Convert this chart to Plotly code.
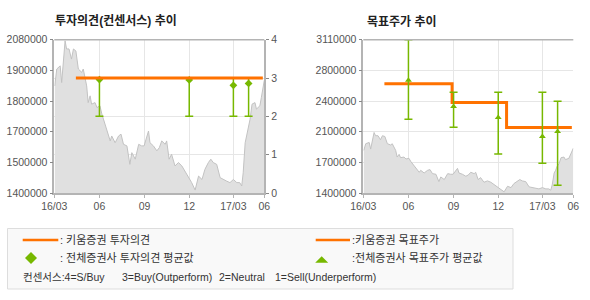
import numpy as np
import plotly.graph_objects as go

# ---------------- data ----------------
price_dates = [
    "2016-03-02", "2016-03-06", "2016-03-13", "2016-03-16", "2016-03-23", "2016-03-26", "2016-03-31",
    "2016-04-05", "2016-04-09", "2016-04-14", "2016-04-19", "2016-04-26", "2016-04-29", "2016-05-03",
    "2016-05-06", "2016-05-09", "2016-05-13", "2016-05-16", "2016-05-23", "2016-05-27", "2016-06-02",
    "2016-06-06", "2016-06-12", "2016-06-19", "2016-06-23", "2016-06-26", "2016-07-03", "2016-07-10",
    "2016-07-15", "2016-07-20", "2016-07-27", "2016-08-02", "2016-08-06", "2016-08-13", "2016-08-20",
    "2016-08-26", "2016-08-31", "2016-09-09", "2016-09-12", "2016-09-19", "2016-09-26", "2016-10-01",
    "2016-10-06", "2016-10-13", "2016-10-16", "2016-10-21", "2016-10-26", "2016-11-02", "2016-11-09",
    "2016-11-16", "2016-11-22", "2016-11-29", "2016-12-06", "2016-12-13", "2016-12-20", "2016-12-27",
    "2017-01-02", "2017-01-09", "2017-01-14", "2017-01-19", "2017-01-26", "2017-02-02", "2017-02-08",
    "2017-02-15", "2017-02-22", "2017-03-01", "2017-03-08", "2017-03-14", "2017-03-18", "2017-03-21",
    "2017-03-25", "2017-03-28", "2017-03-31", "2017-04-04", "2017-04-08", "2017-04-14", "2017-04-17",
    "2017-04-24", "2017-04-27", "2017-05-01", "2017-05-03",
]
price_values = [
    1875000, 1950000, 1964000, 1890000, 2075000, 2039000, 2039000,
    1994000, 2039000, 2030000, 1950000, 1935000, 1950000, 1905000,
    1875000, 1801000, 1831000, 1794000, 1801000, 1779000, 1787000,
    1750000, 1705000, 1661000, 1631000, 1653000, 1623000, 1653000,
    1661000, 1616000, 1609000, 1527000, 1579000, 1550000, 1616000,
    1609000, 1609000, 1675000, 1623000, 1609000, 1587000, 1601000,
    1631000, 1616000, 1631000, 1550000, 1572000, 1520000, 1535000,
    1520000, 1498000, 1468000, 1446000, 1413000, 1475000, 1460000,
    1505000, 1535000, 1550000, 1535000, 1527000, 1468000, 1460000,
    1453000, 1446000, 1460000, 1446000, 1446000, 1431000, 1490000,
    1623000, 1653000, 1698000, 1727000, 1794000, 1801000, 1772000,
    1787000, 1824000, 1883000, 1900000,
]

# Kiwoom investment opinion (left chart, right axis 0-4)
opinion_dates = ["2016-04-14", "2017-04-30"]
opinion_values = [3, 3]

# Consensus opinion (avg / high / low)
cons_op_dates = ["2016-06-01", "2016-12-01", "2017-03-01", "2017-04-01"]
cons_op_avg = [2.96, 2.95, 2.81, 2.86]
cons_op_high = [3, 3, 3, 3]
cons_op_low = [2, 2, 2, 2]

# Kiwoom target price (step)
target_dates = ["2016-04-13", "2016-08-29", "2016-12-18", "2017-04-30"]
target_values = [2620000, 2410000, 2130000, 2130000]

# Consensus target price (avg / high / low)
cons_tp_dates = ["2016-06-01", "2016-09-01", "2016-12-01", "2017-03-01", "2017-04-01"]
cons_tp_avg = [2659000, 2364000, 2241000, 2029000, 2085000]
cons_tp_high = [3110000, 2525000, 2525000, 2525000, 2423000]
cons_tp_low = [2224000, 2134000, 1836000, 1732000, 1486000]

x_range = ["2016-03-01", "2017-05-03"]
x_tickvals = ["2016-03-01", "2016-06-01", "2016-09-01", "2016-12-01", "2017-03-01", "2017-05-03"]
x_ticktext = ["16/03", "06", "09", "12", "17/03", "06"]

left_range = [1400000, 2080000]
left_ticktext = ["1400000", "1500000", "1700000", "1800000", "1900000", "2080000"]
right_range = [1400000, 3110000]
right_ticktext = ["1400000", "1700000", "2100000", "2400000", "2800000", "3110000"]
op_ticks = [0, 1, 2, 3, 4]

# ---------------- styling ----------------
W, H = 590, 300
ORANGE = "#ff7200"
GREEN = "#77b800"
GRID = "#e6e6e6"
AXIS = "#b4b4b4"
FILL = "#e0e0e0"
PLINE = "#c2c2c2"
TICKFONT = dict(family="Liberation Sans, Arial, sans-serif", size=10.5, color="#555555")
KFONT = "Liberation Sans, Noto Sans CJK KR, sans-serif"

def px(x):
    return x / W

def py(y):
    return 1 - y / H

ydom = [py(193), py(39.7)]
left_dom = [px(54.3), px(264.3)]
right_dom = [px(363.3), px(573.3)]

fig = go.Figure()

# ---- left chart ----
fig.add_trace(go.Scatter(x=price_dates, y=price_values, mode="lines", fill="tozeroy",
                         fillcolor=FILL, line=dict(color=PLINE, width=1),
                         xaxis="x", yaxis="y", hoverinfo="skip"))
fig.add_trace(go.Scatter(
    x=cons_op_dates, y=cons_op_avg, mode="markers", xaxis="x", yaxis="y2",
    marker=dict(symbol="diamond", size=6, color=GREEN),
    error_y=dict(type="data", symmetric=False,
                 array=[h - a for h, a in zip(cons_op_high, cons_op_avg)],
                 arrayminus=[a - l for a, l in zip(cons_op_avg, cons_op_low)],
                 color=GREEN, thickness=1.5, width=4)))
fig.add_trace(go.Scatter(x=opinion_dates, y=opinion_values, mode="lines", xaxis="x", yaxis="y2",
                         line=dict(color=ORANGE, width=3)))

# ---- right chart ----
fig.add_trace(go.Scatter(x=price_dates, y=price_values, mode="lines", fill="tozeroy",
                         fillcolor=FILL, line=dict(color=PLINE, width=1),
                         xaxis="x2", yaxis="y3", hoverinfo="skip"))
fig.add_trace(go.Scatter(x=target_dates, y=target_values, mode="lines", line_shape="hv",
                         xaxis="x2", yaxis="y3", line=dict(color=ORANGE, width=3)))
fig.add_trace(go.Scatter(
    x=cons_tp_dates, y=cons_tp_avg, mode="markers", xaxis="x2", yaxis="y3",
    marker=dict(symbol="triangle-up", size=6, color=GREEN),
    error_y=dict(type="data", symmetric=False,
                 array=[h - a for h, a in zip(cons_tp_high, cons_tp_avg)],
                 arrayminus=[a - l for a, l in zip(cons_tp_avg, cons_tp_low)],
                 color=GREEN, thickness=1.5, width=4)))

xcommon = dict(type="date", range=x_range, tickmode="array", tickvals=x_tickvals, ticktext=x_ticktext,
               showgrid=True, gridcolor=GRID, gridwidth=1, showline=True, linecolor=AXIS, linewidth=1.5,
               ticks="outside", ticklen=3, tickcolor=AXIS, tickfont=TICKFONT, zeroline=False,
               fixedrange=True, automargin=False)

left_tickvals = list(np.linspace(left_range[0], left_range[1], len(left_ticktext)))
right_tickvals = list(np.linspace(right_range[0], right_range[1], len(right_ticktext)))

ycommon = dict(showline=True, linecolor=AXIS, linewidth=1.5, ticks="outside", ticklen=3,
               tickcolor="#888888", tickfont=TICKFONT, zeroline=False, automargin=False, fixedrange=True)

fig.update_layout(
    width=W, height=H, autosize=False,
    margin=dict(l=0, r=0, t=0, b=0, pad=0, autoexpand=False),
    paper_bgcolor="white", plot_bgcolor="white", showlegend=False,
    xaxis=dict(domain=left_dom, anchor="y", **xcommon),
    xaxis2=dict(domain=right_dom, anchor="y3", **xcommon),
    yaxis=dict(domain=ydom, anchor="x", range=left_range, tickmode="array",
               tickvals=left_tickvals, ticktext=left_ticktext, showgrid=False, **ycommon),
    yaxis2=dict(overlaying="y", anchor="x", side="right", range=[0, 4], tickmode="array",
                tickvals=op_ticks, ticktext=[str(t) for t in op_ticks], showgrid=True, gridcolor=GRID,
                **ycommon),
    yaxis3=dict(domain=ydom, anchor="x2", range=right_range, tickmode="array",
                tickvals=right_tickvals, ticktext=right_ticktext, showgrid=True, gridcolor=GRID,
                **ycommon),
)

shapes = []
# top borders
for d in (left_dom, right_dom):
    shapes.append(dict(type="line", xref="paper", yref="paper", x0=d[0], x1=d[1], y0=ydom[1], y1=ydom[1],
                       line=dict(color=AXIS, width=1.5)))
# legend box
shapes.append(dict(type="rect", xref="paper", yref="paper", x0=px(7.5), x1=px(513), y0=py(228.5), y1=py(289),
                   fillcolor="#f9f9f9", line=dict(color="#dddddd", width=1), layer="below"))
# legend orange lines
for x0, x1 in ((22.7, 58.3), (315.7, 350)):
    shapes.append(dict(type="line", xref="paper", yref="paper", x0=px(x0), x1=px(x1), y0=py(240), y1=py(240),
                       line=dict(color=ORANGE, width=2.5)))
# legend diamond
cx, cy, r = 31, 258, 6
shapes.append(dict(type="path", xref="paper", yref="paper",
                   path=f"M {px(cx)} {py(cy - r)} L {px(cx + r)} {py(cy)} L {px(cx)} {py(cy + r)} L {px(cx - r)} {py(cy)} Z",
                   fillcolor=GREEN, line=dict(width=0)))
# legend triangle
tx, ty = 321.7, 259.7
shapes.append(dict(type="path", xref="paper", yref="paper",
                   path=f"M {px(tx - 6.5)} {py(ty + 3)} L {px(tx + 6.5)} {py(ty + 3)} L {px(tx)} {py(ty - 3.5)} Z",
                   fillcolor=GREEN, line=dict(width=0)))
fig.update_layout(shapes=shapes)

ann = []
def text(x, y, s, size=11, bold=False, color="#333333", family=KFONT):
    ann.append(dict(xref="paper", yref="paper", x=px(x), y=py(y), text=(f"<b>{s}</b>" if bold else s),
                    showarrow=False, xanchor="left", yanchor="middle", align="left", borderpad=0,
                    font=dict(family=family, size=size, color=color)))

text(54, 21.5, "투자의견(컨센서스) 추이", size=12, bold=True, color="#222222")
text(366, 21, "목표주가 추이", size=12, bold=True, color="#222222")
text(59, 240, ": 키움증권 투자의견")
text(59, 258, ": 전체증권사 투자의견 평균값")
text(351, 240, ":키움증권 목표주가")
text(351, 258, ":전체증권사 목표주가 평균값")
text(22, 276.5, "컨센서스:4=S/Buy", size=10.5)
text(121, 276.5, "3=Buy(Outperform)", size=10.5)
text(218, 276.5, "2=Neutral", size=10.5)
text(274, 276.5, "1=Sell(Underperform)", size=10.5)
fig.update_layout(annotations=ann)

fig.write_html("out.html")
